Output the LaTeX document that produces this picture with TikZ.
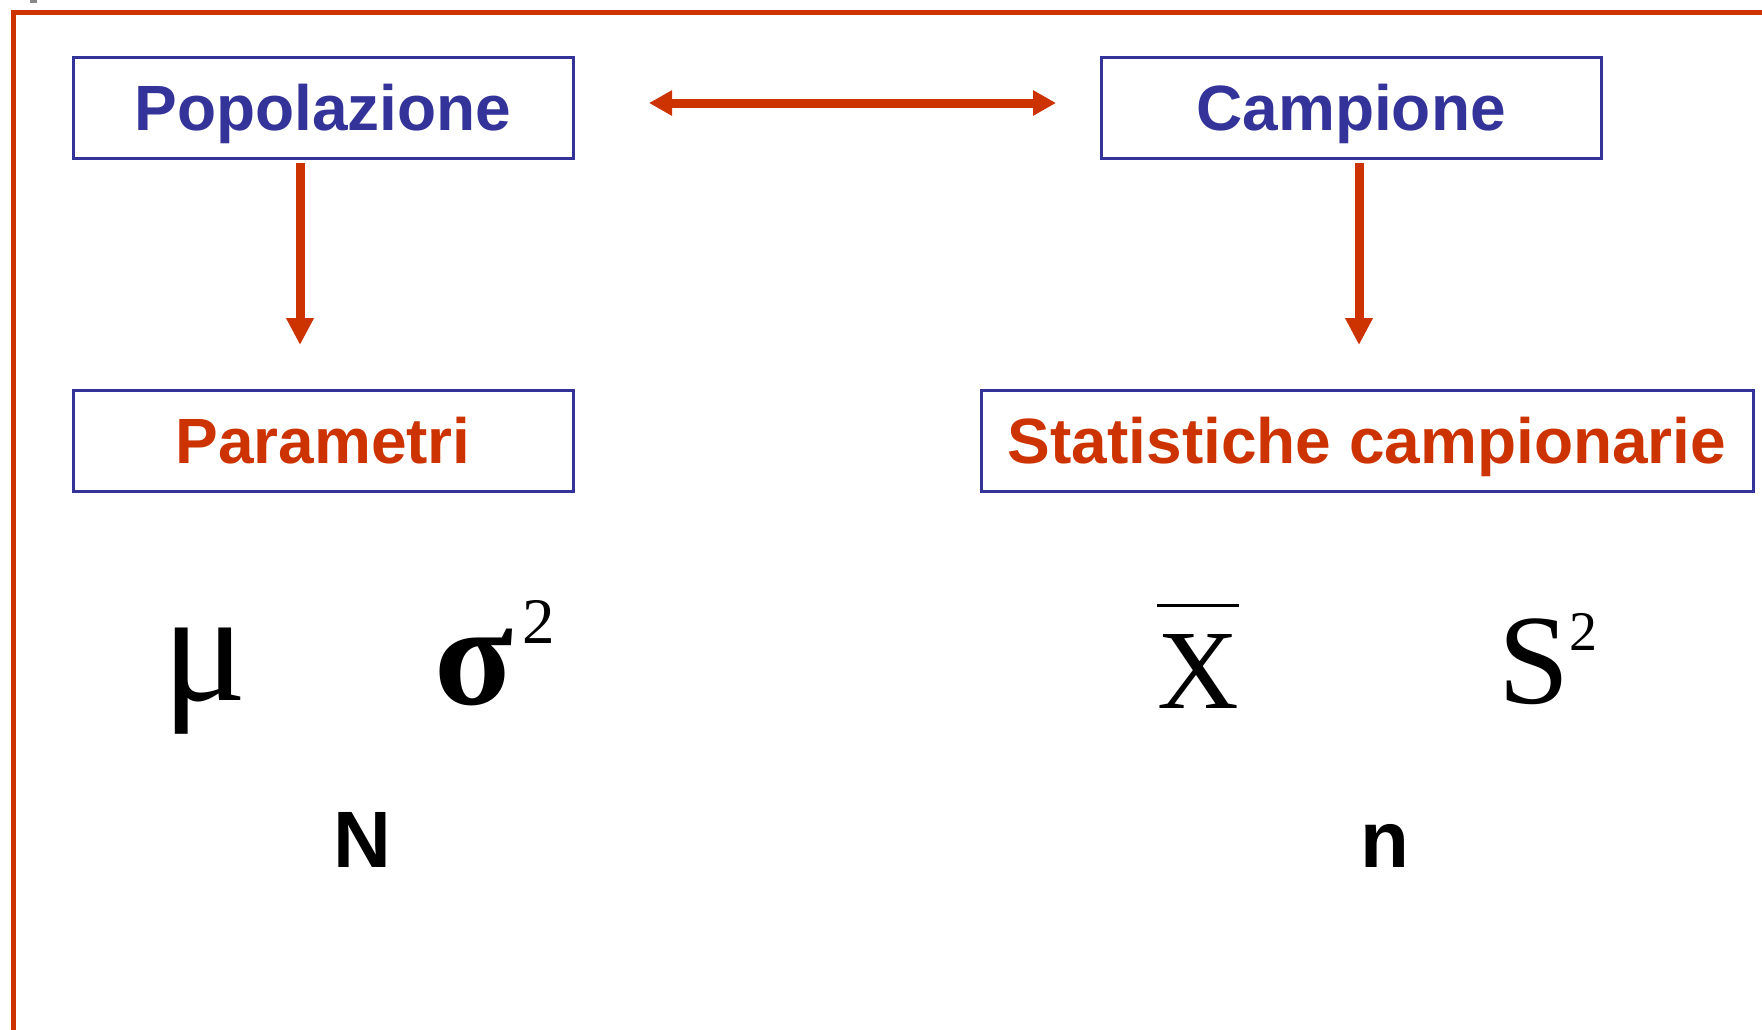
\documentclass[tikz,border=0pt]{standalone}
\usepackage{fontspec}
\setmainfont{Liberation Sans}
\newfontfamily\symf{Liberation Serif}
\usetikzlibrary{arrows.meta}
\definecolor{pblue}{HTML}{333399}
\definecolor{pred}{HTML}{CC3300}
\definecolor{pgrey}{HTML}{888888}
\begin{document}
\begin{tikzpicture}[x=1pt,y=-1pt,
  box/.style={draw=pblue,line width=3pt,inner sep=0pt,outer sep=0pt,
    minimum width=500pt,minimum height=101pt,
    font=\fontsize{64}{70}\selectfont\bfseries,text height=46pt,text depth=0pt},
  arr/.style={draw=pred,line width=9pt,-{Triangle[width=26pt,length=27pt]}},
  darr/.style={draw=pred,line width=9pt,{Triangle[width=24pt,length=23pt]}-{Triangle[width=24pt,length=23pt]}},
  sym/.style={anchor=base,inner sep=0pt,outer sep=0pt},
  lbl/.style={anchor=base,inner sep=0pt,font=\fontsize{80}{80}\selectfont\bfseries}
]
\useasboundingbox (0,0) rectangle (1762,1029);
% frame
\draw[pred,line width=5pt] (13,1040) -- (13,12.5) -- (1775,12.5);
\fill[pgrey] (30,0) rectangle (37,3);
% boxes
\node[box,text=pblue] (pop) at (323,107.5) {Popolazione};
\node[box,text=pblue] (camp) at (1351,107.5) {Campione};
\node[box,text=pred] (par) at (323,440.5) {Parametri};
\node[box,text=pred,minimum width=772pt] (stat) at (1367,440.5) {Statistiche campionarie};
% arrows
\draw[darr] ([xshift=76pt,yshift=4.5pt]pop.east) -- ([xshift=-45pt,yshift=4.5pt]camp.west);
\draw[arr] ([xshift=-23pt,yshift=-5pt]pop.south) -- ([xshift=-23pt,yshift=45pt]par.north);
\draw[arr] ([xshift=8pt,yshift=-5pt]camp.south) -- ([xshift=-8pt,yshift=45pt]stat.north);
% symbols
\node[sym,font=\symf\fontsize{158}{158}\selectfont] (mu) at (205,700) {μ};
\node[sym,font=\symf\bfseries\fontsize{145}{145}\selectfont] (sig) at (474,704) {σ};
\node[sym,font=\symf\fontsize{65}{65}\selectfont] (sig2) at (539,643) {2};
\node[sym,font=\symf\fontsize{113}{113}\selectfont,text height=75pt] (xbar) at (1198,708) {X};
\draw[line width=3pt] ([yshift=28pt]xbar.north west) -- ([yshift=28pt]xbar.north east);
\node[sym,font=\symf\fontsize{128}{128}\selectfont] (s) at (1534,703) {S};
\node[sym,font=\symf\fontsize{56}{56}\selectfont] (s2) at (1583,650) {2};
% sizes
\node[lbl] (bigN) at (362,867) {N};
\node[lbl] (smalln) at (1385,867) {n};
\end{tikzpicture}
\end{document}
